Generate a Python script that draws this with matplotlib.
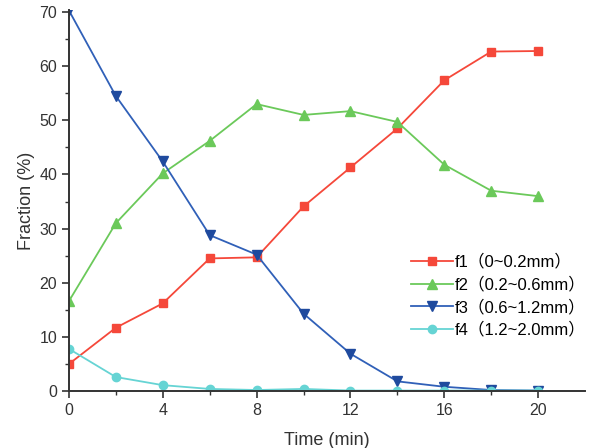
import matplotlib.pyplot as plt
import numpy as np

plt.rcParams['font.family'] = ['Liberation Sans', 'Noto Sans CJK SC']

time = [0, 2, 4, 6, 8, 10, 12, 14, 16, 18, 20]
f1 = [5.0, 11.7, 16.2, 24.5, 24.7, 34.1, 41.3, 48.5, 57.4, 62.7, 62.8]
f2 = [16.6, 31.0, 40.2, 46.2, 53.0, 51.0, 51.7, 49.7, 41.8, 37.0, 36.0]
f3 = [70.3, 54.5, 42.4, 28.8, 25.2, 14.3, 6.9, 1.8, 0.8, 0.2, 0.1]
f4 = [7.8, 2.6, 1.1, 0.4, 0.2, 0.4, 0.1, 0.1, 0.1, 0.1, 0.1]
labels = ["f1（0~0.2mm）", "f2（0.2~0.6mm）", "f3（0.6~1.2mm）", "f4（1.2~2.0mm）"]

fig = plt.figure(figsize=(5.94, 4.48), dpi=100)
ax = fig.add_axes([0.116, 0.127, 0.869, 0.851])

ax.plot(time, f1, color='#F5483A', marker='s', ms=6, lw=1.3, label=labels[0])
ax.plot(time, f2, color='#6BC95A', marker='^', ms=7, lw=1.3, label=labels[1])
ax.plot(time, f3, color='#3060B8', marker='v', ms=7, mfc='#1F4A9E', mec='#1F4A9E', lw=1.3, label=labels[2])
ax.plot(time, f4, color='#66D4D4', marker='o', ms=6, lw=1.3, label=labels[3])

ax.set_xlim(0, 22)
ax.set_ylim(0, 70.4)
ax.set_xticks(np.arange(0, 21, 4))
ax.set_xticks(np.arange(2, 21, 4), minor=True)
ax.set_yticks(np.arange(0, 71, 10))
ax.set_yticks(np.arange(5, 70, 10), minor=True)

for s in ['top', 'right']:
    ax.spines[s].set_visible(False)
for s in ['left', 'bottom']:
    ax.spines[s].set_color('#333333')
    ax.spines[s].set_linewidth(1.4)
ax.tick_params(which='major', length=5, width=1.2, color='#333333', labelsize=11.5, labelcolor='#333333')
ax.tick_params(which='minor', length=3, width=1.0, color='#333333')

ax.set_xlabel("Time (min)", fontsize=13, color='#333333', labelpad=10)
ax.set_ylabel("Fraction (%)", fontsize=13, color='#333333', labelpad=3)

ax.legend(loc='upper left', bbox_to_anchor=(0.65, 0.377), frameon=False, fontsize=12,
          handlelength=2.5, handletextpad=0.1, labelspacing=0.4, borderaxespad=0)

fig.savefig("out.png", dpi=100)
